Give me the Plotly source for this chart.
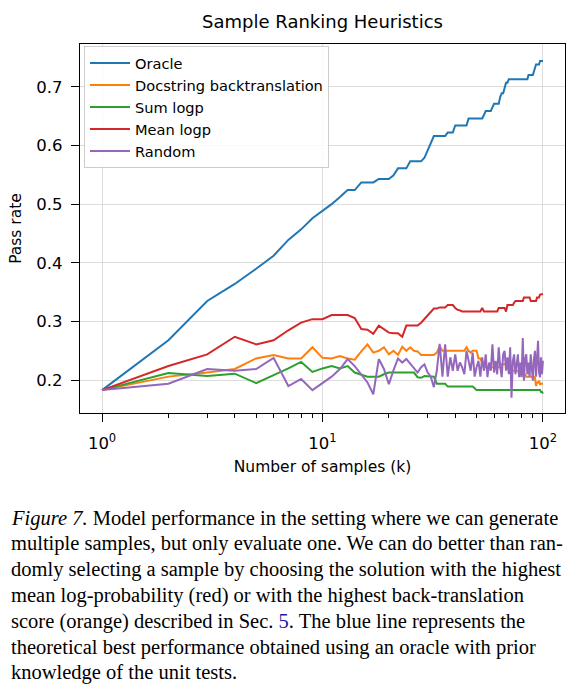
import plotly.graph_objects as go

k = list(range(1, 101))

oracle = [0.183, 0.268, 0.335, 0.364, 0.390, 0.412, 0.439, 0.457, 0.476, 0.488,
          0.500, 0.512, 0.524, 0.524, 0.537, 0.537, 0.537, 0.543, 0.543, 0.543,
          0.549, 0.561, 0.561, 0.561, 0.573, 0.573, 0.573, 0.573, 0.579, 0.591,
          0.604, 0.616, 0.616, 0.616, 0.616, 0.616, 0.622, 0.622, 0.622, 0.634,
          0.634, 0.634, 0.634, 0.634, 0.634, 0.646, 0.646, 0.646, 0.646, 0.646,
          0.646, 0.646, 0.646, 0.652, 0.659, 0.659, 0.659, 0.659, 0.665, 0.671,
          0.671, 0.671, 0.671, 0.683, 0.689, 0.689, 0.701, 0.707, 0.707, 0.713,
          0.713, 0.713, 0.713, 0.713, 0.713, 0.713, 0.713, 0.713, 0.713, 0.713,
          0.713, 0.713, 0.713, 0.713, 0.713, 0.720, 0.720, 0.720, 0.720, 0.720,
          0.726, 0.732, 0.738, 0.738, 0.738, 0.738, 0.744, 0.744, 0.744, 0.744]

docstring = [0.183, 0.206, 0.213, 0.219, 0.237, 0.243, 0.237, 0.237, 0.256, 0.238,
             0.237, 0.241, 0.237, 0.235, 0.249, 0.261, 0.247, 0.250, 0.256, 0.244,
             0.250, 0.243, 0.257, 0.250, 0.256, 0.250, 0.249, 0.243, 0.243, 0.243,
             0.243, 0.243, 0.247, 0.258, 0.250, 0.250, 0.250, 0.250, 0.250, 0.250,
             0.250, 0.250, 0.250, 0.250, 0.256, 0.250, 0.247, 0.250, 0.250, 0.250,
             0.237, 0.237, 0.230, 0.222, 0.222, 0.222, 0.222, 0.222, 0.222, 0.222,
             0.222, 0.222, 0.222, 0.222, 0.227, 0.227, 0.227, 0.227, 0.227, 0.216,
             0.216, 0.216, 0.216, 0.216, 0.216, 0.216, 0.216, 0.210, 0.210, 0.210,
             0.210, 0.210, 0.210, 0.206, 0.206, 0.206, 0.206, 0.206, 0.206, 0.206,
             0.206, 0.204, 0.190, 0.196, 0.196, 0.199, 0.193, 0.194, 0.194, 0.194]

sum_logp = [0.183, 0.212, 0.207, 0.211, 0.195, 0.208, 0.220, 0.231, 0.214, 0.220,
            0.224, 0.220, 0.224, 0.213, 0.209, 0.206, 0.206, 0.206, 0.210, 0.213,
            0.213, 0.213, 0.213, 0.213, 0.213, 0.213, 0.205, 0.204, 0.207, 0.207,
            0.207, 0.206, 0.194, 0.194, 0.194, 0.194, 0.189, 0.189, 0.189, 0.189,
            0.189, 0.189, 0.189, 0.189, 0.189, 0.189, 0.189, 0.189, 0.186, 0.183,
            0.183, 0.183, 0.183, 0.183, 0.183, 0.183, 0.183, 0.183, 0.183, 0.183,
            0.183, 0.183, 0.183, 0.183, 0.183, 0.183, 0.183, 0.183, 0.183, 0.183,
            0.183, 0.183, 0.183, 0.183, 0.183, 0.183, 0.183, 0.183, 0.183, 0.183,
            0.183, 0.183, 0.183, 0.183, 0.183, 0.183, 0.183, 0.183, 0.183, 0.183,
            0.183, 0.183, 0.183, 0.183, 0.183, 0.183, 0.183, 0.180, 0.180, 0.177]

mean_logp = [0.183, 0.224, 0.244, 0.274, 0.261, 0.268, 0.285, 0.298, 0.304, 0.304,
             0.311, 0.311, 0.311, 0.306, 0.287, 0.286, 0.279, 0.293, 0.287, 0.281,
             0.280, 0.280, 0.274, 0.293, 0.293, 0.293, 0.293, 0.298, 0.304, 0.311,
             0.317, 0.322, 0.322, 0.324, 0.324, 0.324, 0.328, 0.328, 0.328, 0.323,
             0.320, 0.319, 0.317, 0.317, 0.317, 0.317, 0.317, 0.317, 0.317, 0.317,
             0.317, 0.317, 0.323, 0.317, 0.317, 0.317, 0.317, 0.317, 0.317, 0.317,
             0.317, 0.317, 0.323, 0.323, 0.323, 0.323, 0.323, 0.317, 0.328, 0.328,
             0.328, 0.328, 0.328, 0.332, 0.335, 0.335, 0.335, 0.335, 0.335, 0.335,
             0.335, 0.341, 0.341, 0.341, 0.341, 0.341, 0.341, 0.335, 0.335, 0.335,
             0.335, 0.335, 0.335, 0.341, 0.341, 0.341, 0.346, 0.346, 0.346, 0.347]

random_sel = [0.183, 0.194, 0.219, 0.216, 0.219, 0.238, 0.190, 0.202, 0.183, 0.195,
              0.206, 0.219, 0.236, 0.224, 0.210, 0.196, 0.176, 0.236, 0.219, 0.193,
              0.217, 0.237, 0.230, 0.236, 0.228, 0.220, 0.213, 0.222, 0.227, 0.213,
              0.206, 0.188, 0.216, 0.262, 0.206, 0.261, 0.206, 0.239, 0.216, 0.244,
              0.216, 0.230, 0.222, 0.210, 0.250, 0.233, 0.216, 0.247, 0.206, 0.222,
              0.233, 0.206, 0.239, 0.216, 0.244, 0.205, 0.230, 0.216, 0.261, 0.213,
              0.233, 0.210, 0.256, 0.222, 0.205, 0.244, 0.250, 0.216, 0.239, 0.210,
              0.256, 0.170, 0.233, 0.244, 0.210, 0.227, 0.244, 0.205, 0.230, 0.205,
              0.272, 0.199, 0.236, 0.244, 0.210, 0.230, 0.206, 0.244, 0.222, 0.199,
              0.236, 0.250, 0.206, 0.233, 0.267, 0.213, 0.205, 0.239, 0.210, 0.233]

series_names = ["Oracle", "Docstring backtranslation", "Sum logp", "Mean logp", "Random"]
series_values = [oracle, docstring, sum_logp, mean_logp, random_sel]
colors = ["#1f77b4", "#ff7f0e", "#2ca02c", "#d62728", "#9467bd"]

x_tick_vals = [1, 10, 100]
x_tick_text = ["10<sup>0</sup>", "10<sup>1</sup>", "10<sup>2</sup>"]
x_minor_vals = [2, 3, 4, 5, 6, 7, 8, 9, 20, 30, 40, 50, 60, 70, 80, 90]
y_tick_vals = [0.2, 0.3, 0.4, 0.5, 0.6, 0.7]
y_tick_text = ["0.2", "0.3", "0.4", "0.5", "0.6", "0.7"]

caption_lines = [
    "<i>Figure 7.</i> Model performance in the setting where we can generate",
    "multiple samples, but only evaluate one. We can do better than ran-",
    "domly selecting a sample by choosing the solution with the highest",
    "mean log-probability (red) or with the highest back-translation",
    "score (orange) described in Sec. <span style='color:#1a1aa6'>5</span>. The blue line represents the",
    "theoretical best performance obtained using an oracle with prior",
    "knowledge of the unit tests.",
]

W, H = 578, 691
L, R, T, B = 80, 565, 44, 413

fig = go.Figure()
for name, vals, c in zip(series_names, series_values, colors):
    fig.add_trace(go.Scatter(x=k, y=vals, mode="lines", name=name,
                             line=dict(color=c, width=2)))

font_family = "DejaVu Sans"
axis_common = dict(showline=True, linecolor="black", linewidth=1.3, mirror=True,
                   ticks="outside", ticklen=8, tickwidth=1.3, tickcolor="black",
                   showgrid=True, gridcolor="#dcdcdc", gridwidth=1, zeroline=False,
                   automargin=False,
                   tickfont=dict(family=font_family, size=16.5, color="black"))

fig.update_xaxes(type="log", range=[-0.1, 2.1], tickmode="array",
                 tickvals=x_tick_vals, ticktext=x_tick_text, ticklabelstandoff=7,
                 minor=dict(tickmode="array", tickvals=x_minor_vals, ticks="outside",
                            ticklen=4, tickwidth=1, tickcolor="black", showgrid=False),
                 title=dict(text="Number of samples (k)", standoff=9,
                            font=dict(family=font_family, size=15.5, color="black")),
                 **axis_common)
fig.update_yaxes(range=[0.144, 0.773], tickmode="array",
                 tickvals=y_tick_vals, ticktext=y_tick_text, ticklabelstandoff=5,
                 title=dict(text="Pass rate", standoff=10,
                            font=dict(family=font_family, size=15.5, color="black")),
                 **axis_common)

def px_x(p):
    return (p - L) / (R - L)

def px_y(p):
    return (B - p) / (B - T)

line_ys = [518, 543.5, 569, 595, 621, 647, 673]
for text, yy in zip(caption_lines, line_ys):
    fig.add_annotation(text=text, xref="paper", yref="paper", x=px_x(9), y=px_y(yy),
                       xanchor="left", yanchor="middle", showarrow=False, align="left",
                       font=dict(family="Liberation Serif", size=20.5, color="black"))

fig.update_layout(
    width=W, height=H,
    margin=dict(l=L, r=W - R, t=T, b=H - B, pad=0),
    paper_bgcolor="white", plot_bgcolor="white",
    font=dict(family=font_family, color="black"),
    title=dict(text="Sample Ranking Heuristics", x=322.5 / W,
               xanchor="center", y=1 - 22 / H, yanchor="middle",
               font=dict(family=font_family, size=18, color="black")),
    legend=dict(x=px_x(84), y=px_y(46), xanchor="left", yanchor="top",
                itemwidth=40,
                bgcolor="rgba(255,255,255,0.85)", bordercolor="#cccccc", borderwidth=1,
                font=dict(family=font_family, size=14.6, color="black")),
    showlegend=True,
)

fig.write_html("out.html", config={"displayModeBar": False},
               post_script="document.body.style.margin='0px';")
